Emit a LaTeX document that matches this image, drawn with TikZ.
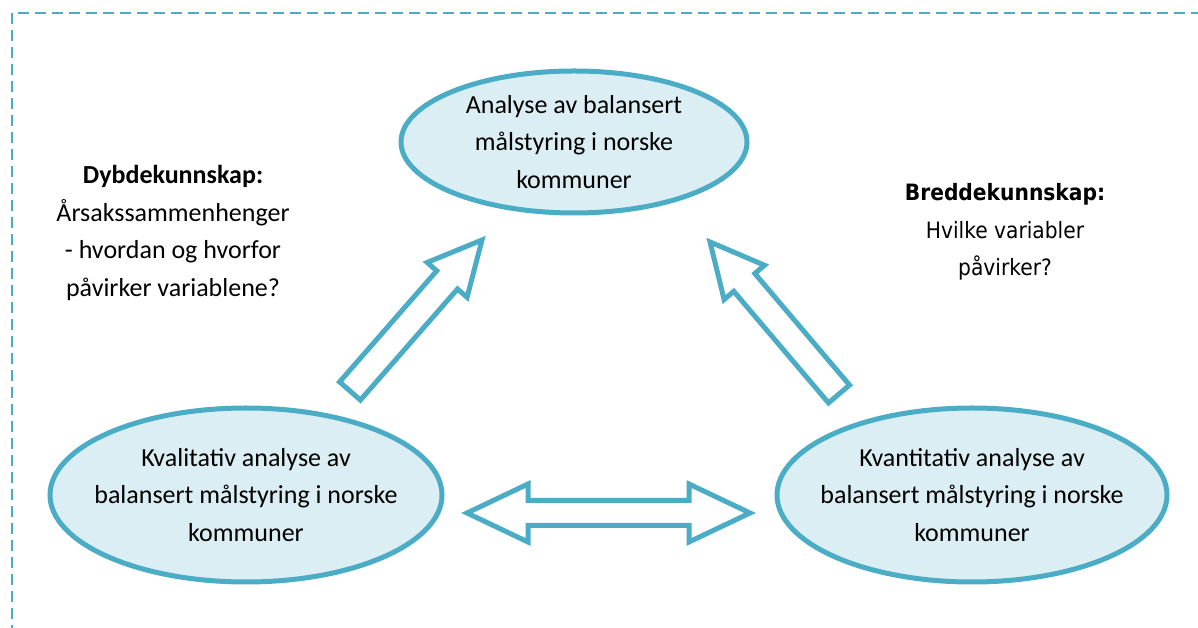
\documentclass[tikz,border=0pt]{standalone}
\usepackage{fontspec}
\setmainfont{Carlito}
\newfontfamily\tahoma{DejaVu Sans Condensed}
\usetikzlibrary{shapes.geometric,calc}

\definecolor{boxblue}{HTML}{4BACC6}
\definecolor{boxfill}{HTML}{DAEEF3}

\tikzset{
  oval/.style={ellipse,draw=boxblue,fill=boxfill,line width=5pt,inner sep=0pt},
  ovaltext/.style={align=center,inner sep=0pt,font=\fontsize{26}{37.5}\selectfont},
  note/.style={align=center,inner sep=0pt},
  arrowline/.style={draw=boxblue,fill=white,line width=5pt,line join=miter},
  frame/.style={draw=boxblue,line width=2pt,dash pattern=on 11pt off 6pt}
}

% hollow block arrow from #1 (tail) to #2 (tip)
\newcommand\blockarrow[2]{%
  \draw[arrowline] let \p1=(#1), \p2=(#2),
      \n1={atan2(\y2-\y1,\x2-\x1)}, \n2={veclen(\x2-\x1,\y2-\y1)-53} in
    ($(\p1)+({\n1+90}:13.8)$) -- ($(\p1)+(\n1:\n2)+({\n1+90}:13.8)$)
    -- ($(\p1)+(\n1:\n2)+({\n1+90}:26.5)$) -- (\p2)
    -- ($(\p1)+(\n1:\n2)+({\n1-90}:26.5)$) -- ($(\p1)+(\n1:\n2)+({\n1-90}:13.8)$)
    -- ($(\p1)+({\n1-90}:13.8)$) -- cycle;}

% hollow double block arrow between #1 and #2
\newcommand\dblarrow[2]{%
  \draw[arrowline] let \p1=(#1), \p2=(#2),
      \n1={atan2(\y2-\y1,\x2-\x1)} in
    (\p1) -- ($(\p1)+(\n1:61)+({\n1+90}:29)$) -- ($(\p1)+(\n1:61)+({\n1+90}:12.5)$)
    -- ($(\p2)+({\n1+180}:61)+({\n1+90}:12.5)$) -- ($(\p2)+({\n1+180}:61)+({\n1+90}:29)$)
    -- (\p2)
    -- ($(\p2)+({\n1+180}:61)+({\n1-90}:29)$) -- ($(\p2)+({\n1+180}:61)+({\n1-90}:12.5)$)
    -- ($(\p1)+(\n1:61)+({\n1-90}:12.5)$) -- ($(\p1)+(\n1:61)+({\n1-90}:29)$) -- cycle;}

\begin{document}
\begin{tikzpicture}[x=1pt,y=1pt]
  \useasboundingbox (0,0) rectangle (1198,628);
  \clip (0,0) rectangle (1198,628);
  \draw[frame] (12,615) rectangle (1230,-20); % dashed frame

  % the three analyses
  \node[oval,minimum width=346pt,minimum height=142pt] (analyse) at (574,486) {};
  \node[ovaltext] (analyseText) at (analyse) {Analyse av balansert\\målstyring i norske\\kommuner};
  \node[oval,minimum width=392pt,minimum height=174pt] (kvalitativ) at (246,133) {};
  \node[ovaltext] (kvalitativText) at (kvalitativ) {Kvalitativ analyse av\\balansert målstyring i norske\\kommuner};
  \node[oval,minimum width=390pt,minimum height=174pt] (kvantitativ) at (972,133) {};
  \node[ovaltext] (kvantitativText) at (kvantitativ) {Kvantitativ analyse av\\balansert målstyring i norske\\kommuner};

  % side notes
  \node[note,font=\fontsize{26}{37.5}\selectfont] (dybde) at (173,395)
    {\textbf{Dybdekunnskap:}\\Årsakssammenhenger\\- hvordan og hvorfor\\påvirker variablene?};
  \node[note,font=\tahoma\fontsize{22.5}{37.5}\selectfont] (bredde) at (1005,396)
    {\textbf{Breddekunnskap:}\\Hvilke variabler\\påvirker?};

  % arrow ends
  \coordinate (kvalTail) at (350,237);
  \coordinate (kvalTip) at (482,388);
  \coordinate (kvanTail) at (839,234);
  \coordinate (kvanTip) at (710,386);
  \coordinate (midLeft) at (467,115);
  \coordinate (midRight) at (750,115);

  \blockarrow{kvalTail}{kvalTip}
  \blockarrow{kvanTail}{kvanTip}
  \dblarrow{midLeft}{midRight}
\end{tikzpicture}
\end{document}
